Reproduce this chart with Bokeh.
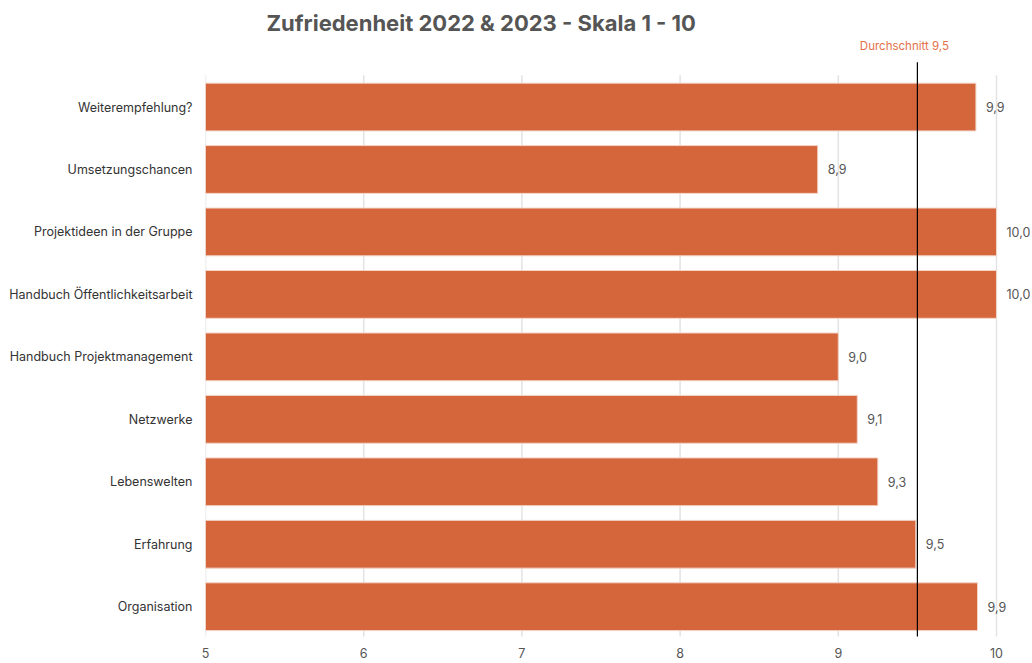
from bokeh.plotting import figure
from bokeh.models import Range1d, FixedTicker, Label, ColumnDataSource
from bokeh.embed import file_html
from bokeh.resources import INLINE
from bokeh.core.properties import value

categories = ["Weiterempfehlung?", "Umsetzungschancen", "Projektideen in der Gruppe",
              "Handbuch Öffentlichkeitsarbeit", "Handbuch Projektmanagement",
              "Netzwerke", "Lebenswelten", "Erfahrung", "Organisation"]
values = [9.87, 8.87, 10.0, 10.0, 9.0, 9.12, 9.25, 9.49, 9.88]
value_labels = ["9,9", "8,9", "10,0", "10,0", "9,0", "9,1", "9,3", "9,5", "9,9"]
x_ticks = [5, 6, 7, 8, 9, 10]
average = 9.5
average_label = "Durchschnitt 9,5"
title = "Zufriedenheit 2022 & 2023 - Skala 1 - 10"

FONT = "Inter"
BAR = "#D5653B"

pos = list(range(len(categories)))
src = ColumnDataSource(dict(y=pos, v=values, lab=value_labels, left=[x_ticks[0]] * len(pos)))

p = figure(width=1030, height=660, output_backend="svg", toolbar_location=None,
           x_range=Range1d(5, 10.215), y_range=Range1d(8.477, -1.097),
           min_border_left=205, min_border_right=0, min_border_top=38, min_border_bottom=0,
           outline_line_color=None, title=title)
p.title.text_font = FONT
p.title.text_font_size = "22px"
p.title.text_font_style = "bold"
p.title.text_color = "#555555"
p.title.align = "left"
p.title.offset = 61
p.title.standoff = 5

p.xgrid.visible = False
p.ygrid.visible = False

# vertical gridlines
p.segment(x0=x_ticks, x1=x_ticks, y0=[-0.51] * len(x_ticks), y1=[8.6] * len(x_ticks),
          line_color="#e3e3e3", line_width=1.5)

p.hbar(y="y", left="left", right="v", height=0.765, source=src,
       fill_color=BAR, line_color="#f3d5c8", line_width=1)

p.text(x="v", y="y", text="lab", source=src, x_offset=10,
       text_baseline="middle", text_align="left", text_font=value(FONT),
       text_font_size="12.5px", text_color="#555555")

# average line
p.segment(x0=[average], x1=[average], y0=[-0.716], y1=[9.0], line_color="black", line_width=1.2)
p.add_layout(Label(x=average, y=-0.97, text=average_label, x_offset=-13,
                   text_align="center", text_baseline="middle", text_font=FONT,
                   text_font_size="11.5px", text_color="#E3704A"))

p.xaxis.ticker = FixedTicker(ticks=x_ticks)
p.xaxis.axis_line_color = None
p.xaxis.major_tick_line_color = None
p.xaxis.minor_tick_line_color = None
p.xaxis.major_label_standoff = 5
p.xaxis.major_label_text_font = FONT
p.xaxis.major_label_text_font_size = "12.5px"
p.xaxis.major_label_text_color = "#555555"

p.yaxis.ticker = FixedTicker(ticks=pos)
p.yaxis.major_label_overrides = {i: c for i, c in zip(pos, categories)}
p.yaxis.axis_line_color = None
p.yaxis.major_tick_line_color = None
p.yaxis.minor_tick_line_color = None
p.yaxis.major_label_standoff = 7
p.yaxis.major_label_text_font = FONT
p.yaxis.major_label_text_font_size = "12.5px"
p.yaxis.major_label_text_color = "#333333"

open("out.html", "w").write(file_html(p, INLINE))
